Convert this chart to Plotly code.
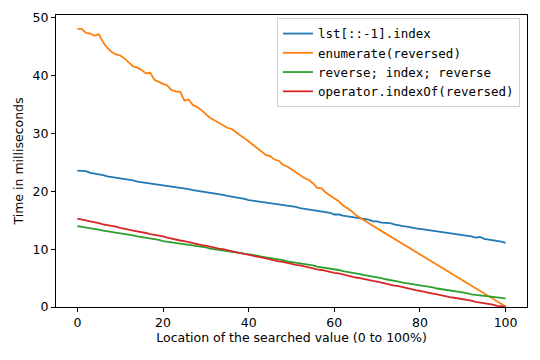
import plotly.graph_objects as go

x_vals = list(range(0, 101))

lst_index = [
    23.6, 23.6, 23.5, 23.2, 23.1, 22.9, 22.8, 22.6, 22.5, 22.4,
    22.2, 22.1, 22.0, 21.9, 21.7, 21.6, 21.5, 21.4, 21.3, 21.1,
    21.0, 20.9, 20.8, 20.7, 20.6, 20.5, 20.4, 20.2, 20.1, 20.0,
    19.8, 19.7, 19.6, 19.5, 19.4, 19.2, 19.1, 19.0, 18.8, 18.7,
    18.5, 18.4, 18.3, 18.2, 18.0, 17.9, 17.8, 17.7, 17.6, 17.5,
    17.4, 17.3, 17.1, 17.0, 16.9, 16.8, 16.7, 16.5, 16.4, 16.3,
    16.0, 16.0, 15.8, 15.7, 15.6, 15.4, 15.3, 15.2, 15.1, 14.8,
    14.8, 14.6, 14.6, 14.5, 14.3, 14.1, 14.0, 13.9, 13.7, 13.6,
    13.5, 13.4, 13.3, 13.2, 13.0, 13.0, 12.8, 12.7, 12.6, 12.5,
    12.5, 12.3, 12.2, 12.0, 12.1, 11.8, 11.7, 11.5, 11.5, 11.3,
    11.1,
]

enumerate_reversed = [
    48.1, 48.1, 47.4, 47.3, 46.9, 47.2, 45.8, 44.8, 44.1, 43.7,
    43.5, 43.0, 42.3, 41.6, 41.4, 41.0, 40.4, 40.5, 39.3, 38.9,
    38.6, 38.3, 37.5, 37.3, 37.2, 35.7, 35.9, 34.9, 34.6, 34.0,
    33.3, 32.7, 32.3, 31.9, 31.5, 31.0, 30.8, 30.2, 29.7, 29.2,
    28.6, 28.0, 27.4, 26.8, 26.3, 26.1, 25.5, 25.3, 24.6, 24.3,
    23.8, 23.3, 22.8, 22.3, 22.0, 21.4, 20.6, 20.5, 19.8, 19.3,
    18.9, 18.3, 17.6, 17.1, 16.6, 15.9, 15.4, 15.0, 14.5, 14.05,
    13.6, 13.15, 12.7, 12.25, 11.8, 11.35, 10.9, 10.45, 10.0, 9.55,
    9.1, 8.65, 8.2, 7.75, 7.3, 6.85, 6.4, 5.95, 5.5, 5.05,
    4.6, 4.15, 3.7, 3.25, 2.8, 2.35, 1.9, 1.45, 1.0, 0.55,
    0.1,
]

reverse_index_reverse = [
    14.0, 13.9, 13.7, 13.6, 13.5, 13.4, 13.2, 13.1, 13.0, 12.9,
    12.7, 12.6, 12.5, 12.4, 12.2, 12.1, 12.0, 11.8, 11.7, 11.6,
    11.4, 11.3, 11.2, 11.0, 10.9, 10.8, 10.7, 10.6, 10.5, 10.4,
    10.3, 10.1, 10.0, 9.9, 9.8, 9.7, 9.6, 9.5, 9.4, 9.2,
    9.1, 9.0, 8.9, 8.7, 8.6, 8.4, 8.3, 8.2, 8.1, 7.9,
    7.8, 7.7, 7.6, 7.4, 7.3, 7.2, 7.0, 6.9, 6.8, 6.6,
    6.5, 6.4, 6.2, 6.1, 6.0, 5.8, 5.7, 5.5, 5.4, 5.2,
    5.1, 5.0, 4.8, 4.7, 4.6, 4.4, 4.2, 4.1, 4.0, 3.9,
    3.7, 3.6, 3.5, 3.4, 3.2, 3.1, 3.0, 2.9, 2.8, 2.6,
    2.5, 2.4, 2.2, 2.1, 2.0, 1.9, 1.8, 1.7, 1.6, 1.6,
    1.5,
]

operator_indexof = [
    15.3, 15.2, 15.0, 14.8, 14.7, 14.5, 14.3, 14.2, 14.0, 13.9,
    13.7, 13.6, 13.4, 13.2, 13.1, 12.9, 12.8, 12.6, 12.5, 12.3,
    12.2, 12.0, 11.8, 11.7, 11.5, 11.4, 11.2, 11.1, 10.9, 10.7,
    10.6, 10.4, 10.3, 10.1, 10.0, 9.8, 9.6, 9.5, 9.3, 9.2,
    9.0, 8.9, 8.7, 8.6, 8.4, 8.2, 8.1, 7.9, 7.8, 7.6,
    7.5, 7.3, 7.2, 7.0, 6.8, 6.7, 6.5, 6.4, 6.2, 6.1,
    5.9, 5.8, 5.6, 5.4, 5.3, 5.1, 5.0, 4.8, 4.7, 4.5,
    4.4, 4.2, 4.0, 3.9, 3.7, 3.6, 3.4, 3.3, 3.1, 2.9,
    2.8, 2.6, 2.5, 2.3, 2.2, 2.0, 1.9, 1.7, 1.6, 1.5,
    1.3, 1.2, 1.1, 0.9, 0.8, 0.6, 0.5, 0.4, 0.2, 0.1,
    0.05,
]

series_names = [
    "lst[::-1].index",
    "enumerate(reversed)",
    "reverse; index; reverse",
    "operator.indexOf(reversed)",
]
series_values = [lst_index, enumerate_reversed, reverse_index_reverse, operator_indexof]
colors = ["#1f77b4", "#ff7f0e", "#2ca02c", "#d62728"]

x_ticks = [0, 20, 40, 60, 80, 100]
y_ticks = [0, 10, 20, 30, 40, 50]

fig = go.Figure()
for name, vals, c in zip(series_names, series_values, colors):
    fig.add_trace(go.Scatter(x=x_vals, y=vals, mode="lines", name=name,
                             line=dict(color=c, width=1.8)))

axis_common = dict(showline=True, linecolor="black", linewidth=1, mirror=True,
                   ticks="outside", ticklen=4, tickwidth=1, tickcolor="black",
                   showgrid=False, zeroline=False, automargin=False,
                   tickfont=dict(family="DejaVu Sans", size=12.5, color="black"))

# page body adds an 8px offset, so margins are shifted to compensate
fig.update_layout(
    width=540, height=360,
    margin=dict(l=48, r=21, t=7, b=61),
    paper_bgcolor="white", plot_bgcolor="white",
    font=dict(family="DejaVu Sans", size=12.5, color="black"),
    xaxis=dict(range=[-5, 105], tickvals=x_ticks,
               title=dict(text="Location of the searched value (0 to 100%)", standoff=4,
                          font=dict(size=12.5)),
               **axis_common),
    yaxis=dict(range=[0, 50.5], tickvals=y_ticks,
               title=dict(text="Time in milliseconds", standoff=6, font=dict(size=12.5)),
               **axis_common),
    legend=dict(x=0.985, y=0.99, xanchor="right", yanchor="top",
                font=dict(family="DejaVu Sans Mono", size=12.5, color="black"),
                bgcolor="rgba(255,255,255,0.8)", bordercolor="#d0d0d0", borderwidth=1,
                itemwidth=30, tracegroupgap=0),
    showlegend=True,
)

fig.write_html("out.html")
